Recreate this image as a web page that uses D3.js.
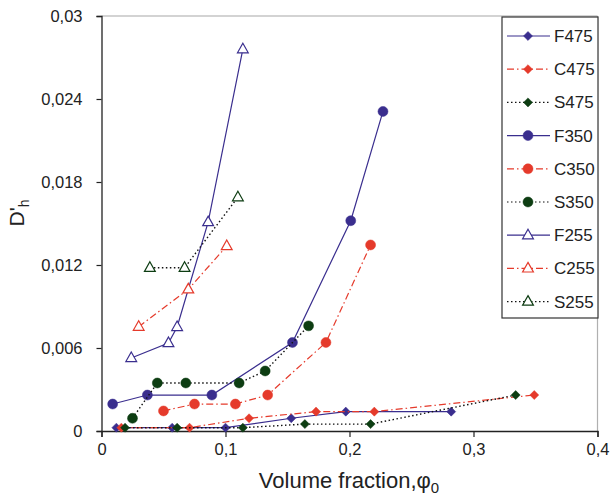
<!DOCTYPE html>
<html>
<head>
<meta charset="utf-8">
<script src="https://cdn.jsdelivr.net/npm/d3@7"></script>
<style>
  body { margin: 0; background: #fff; }
  text { font-family: "Liberation Sans", Arial, Helvetica, sans-serif; fill: #222; }
</style>
</head>
<body>
<div id="vis"></div>
<script>
// Series values: [volume fraction, D'h]
var F475 = [[0.012, 0.00024], [0.057, 0.00024], [0.100, 0.00024], [0.153, 0.00092], [0.197, 0.0014], [0.282, 0.0014]];
var C475 = [[0.016, 0.00024], [0.071, 0.00024], [0.119, 0.00092], [0.173, 0.0014], [0.220, 0.0014], [0.349, 0.0026]];
var S475 = [[0.019, 0.00024], [0.061, 0.00024], [0.114, 0.00024], [0.164, 0.0005], [0.217, 0.0005], [0.334, 0.0026]];
var F350 = [[0.009, 0.00195], [0.037, 0.0026], [0.089, 0.0026], [0.154, 0.0064], [0.201, 0.0152], [0.227, 0.0231]];
var C350 = [[0.050, 0.00145], [0.075, 0.00195], [0.108, 0.00195], [0.134, 0.0026], [0.181, 0.0064], [0.217, 0.01345]];
var S350 = [[0.025, 0.00092], [0.045, 0.00347], [0.068, 0.00347], [0.111, 0.00347], [0.132, 0.00434], [0.167, 0.0076]];
var F255 = [[0.024, 0.00528], [0.054, 0.00636], [0.061, 0.00752], [0.086, 0.0151], [0.114, 0.0276]];
var C255 = [[0.030, 0.00754], [0.070, 0.01024], [0.101, 0.01337]];
var S255 = [[0.039, 0.0118], [0.067, 0.0118], [0.110, 0.0169]];

var seriesNames = ['F475', 'C475', 'S475', 'F350', 'C350', 'S350', 'F255', 'C255', 'S255'];
var seriesData = [F475, C475, S475, F350, C350, S350, F255, C255, S255];
var xTicks = [0, 0.1, 0.2, 0.3, 0.4];
var yTicks = [0, 0.006, 0.012, 0.018, 0.024, 0.03];

// style per letter (F, C, S) and per marker (475, 350, 255)
var colors = { F: '#3a2e8e', C: '#e53a2b', S: '#0d3d12' };
var lineColors = { F: '#3a2e8e', C: '#e53a2b', S: '#111' };
var dashes = { F: null, C: '7,3,1.5,3', S: '1.5,2.5' };
var shapes = { '475': 'diamond', '350': 'circle', '255': 'triangle' };

var width = 611, height = 495;
var margin = { left: 101.5, top: 16, right: 13.5, bottom: 64 };
var drawWidth = width - margin.left - margin.right;
var drawHeight = height - margin.top - margin.bottom;

var svg = d3.select('#vis').append('svg')
    .attr('width', width)
    .attr('height', height);

var xScale = d3.scaleLinear().domain([0, 0.4]).range([0, drawWidth]);
var yScale = d3.scaleLinear().domain([0, 0.03]).range([drawHeight, 0]);

var g = svg.append('g')
    .attr('transform', 'translate(' + margin.left + ',' + margin.top + ')');

// light frame on top and right
g.append('line').attr('x1', 0).attr('x2', drawWidth).attr('y1', 0).attr('y2', 0)
    .attr('stroke', '#c4c4c4').attr('stroke-width', 1.5);
g.append('line').attr('x1', drawWidth).attr('x2', drawWidth).attr('y1', 0).attr('y2', drawHeight)
    .attr('stroke', '#b0b0b0').attr('stroke-width', 1.2);

var fmt = function(d) { return d === 0 ? '0' : String(+d.toFixed(3)).replace('.', ','); };

var xAxis = d3.axisBottom(xScale).tickValues(xTicks).tickSize(6).tickPadding(6).tickFormat(fmt);
var yAxis = d3.axisLeft(yScale).tickValues(yTicks).tickSize(5).tickPadding(14).tickFormat(fmt);

var xAxisG = g.append('g').attr('transform', 'translate(0,' + drawHeight + ')').call(xAxis);
var yAxisG = g.append('g').call(yAxis);
[xAxisG, yAxisG].forEach(function(a) {
    a.select('.domain').attr('stroke', '#222').attr('stroke-width', 1.3);
    a.selectAll('.tick line').attr('stroke', '#222').attr('stroke-width', 1.2);
    a.selectAll('.tick text').style('font-size', '16.5px').style('fill', '#222')
        .style('font-family', '"Liberation Sans", Arial, sans-serif');
});

// axis titles
var xt = svg.append('text')
    .attr('x', 349).attr('y', 488)
    .attr('text-anchor', 'middle')
    .style('font-size', '22px');
xt.append('tspan').text('Volume fraction,φ');
xt.append('tspan').attr('dy', 5).style('font-size', '15px').text('0');

var yt = svg.append('text')
    .attr('transform', 'translate(24,213) rotate(-90)')
    .attr('text-anchor', 'middle')
    .style('font-size', '21px');
yt.append('tspan').text('D\'');
yt.append('tspan').attr('dy', 5).style('font-size', '14px').text('h');

function markerPath(shape) {
    if (shape === 'diamond') return d3.symbol().type(d3.symbolDiamond2).size(52)();
    if (shape === 'circle') return d3.symbol().type(d3.symbolCircle).size(78)();
    return 'M0,-6L5.4,3.6L-5.4,3.6Z';
}

function drawMarker(sel, name) {
    var kind = name[0], shape = shapes[name.slice(1)];
    var open = shape === 'triangle';
    sel.attr('d', markerPath(shape))
        .attr('fill', open ? '#fff' : colors[kind])
        .attr('stroke', colors[kind])
        .attr('stroke-width', open ? 1.2 : 0.5);
}

var line = d3.line()
    .x(function(d) { return xScale(d[0]); })
    .y(function(d) { return yScale(d[1]); });

seriesNames.forEach(function(name, i) {
    var kind = name[0];
    var sg = g.append('g').attr('class', 'series-' + name);
    sg.append('path')
        .datum(seriesData[i])
        .attr('d', line)
        .attr('fill', 'none')
        .attr('stroke', lineColors[kind])
        .attr('stroke-width', kind === 'S' ? 1.4 : 1.2)
        .attr('stroke-dasharray', dashes[kind]);
    sg.selectAll('path.mark')
        .data(seriesData[i])
        .enter().append('path')
        .attr('class', 'mark')
        .attr('transform', function(d) { return 'translate(' + xScale(d[0]) + ',' + yScale(d[1]) + ')'; })
        .call(drawMarker, name);
});

// legend
var legend = svg.append('g').attr('transform', 'translate(502,17)');
legend.append('rect')
    .attr('width', 96).attr('height', 301)
    .attr('fill', '#fff').attr('stroke', '#333').attr('stroke-width', 1.2);
seriesNames.forEach(function(name, i) {
    var kind = name[0];
    var row = legend.append('g').attr('transform', 'translate(0,' + (19 + i * 33.2) + ')');
    row.append('line')
        .attr('x1', 5).attr('x2', 48).attr('y1', 0).attr('y2', 0)
        .attr('stroke', lineColors[kind]).attr('stroke-width', 1.2)
        .attr('stroke-dasharray', dashes[kind]);
    row.append('path').attr('transform', 'translate(26,0)').call(drawMarker, name);
    row.append('text')
        .attr('x', 52).attr('y', 6)
        .style('font-size', '17px')
        .text(name);
});
</script>
</body>
</html>
